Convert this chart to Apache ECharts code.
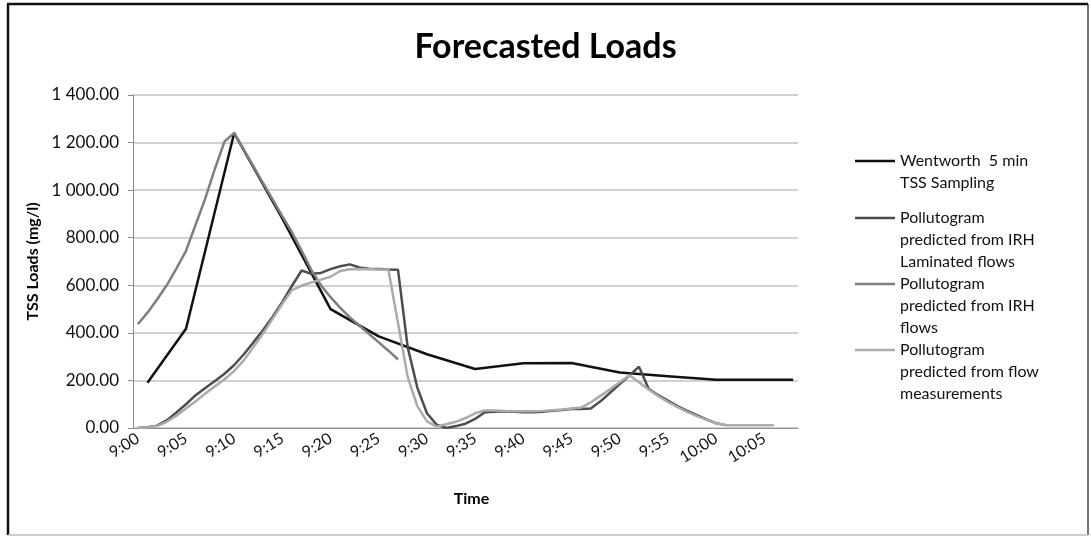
<!DOCTYPE html>
<html>
<head>
<meta charset="utf-8">
<script src="https://cdn.jsdelivr.net/npm/echarts@6/dist/echarts.min.js"></script>
<style>
  html, body { margin: 0; padding: 0; background: #ffffff; }
  #chart { width: 1091px; height: 537px; }
</style>
</head>
<body>
<div id="chart"></div>
<script>
// One category per minute, 9:00 to 10:08
const minutes = [
  '9:00','9:01','9:02','9:03','9:04','9:05','9:06','9:07','9:08','9:09',
  '9:10','9:11','9:12','9:13','9:14','9:15','9:16','9:17','9:18','9:19',
  '9:20','9:21','9:22','9:23','9:24','9:25','9:26','9:27','9:28','9:29',
  '9:30','9:31','9:32','9:33','9:34','9:35','9:36','9:37','9:38','9:39',
  '9:40','9:41','9:42','9:43','9:44','9:45','9:46','9:47','9:48','9:49',
  '9:50','9:51','9:52','9:53','9:54','9:55','9:56','9:57','9:58','9:59',
  '10:00','10:01','10:02','10:03','10:04','10:05','10:06','10:07','10:08'
];

// Wentworth 5 min TSS sampling (mg/l)
const wentworthTimes = ['9:01','9:05','9:10','9:15','9:20','9:25','9:30','9:35','9:40','9:45','9:50','9:55','10:00','10:05','10:08'];
const wentworthLoads = [190, 417, 1240, 880, 500, 385, 310, 248, 272, 273, 233, 218, 203, 203, 203];

// Pollutogram predicted from IRH laminated flows, 9:00 to 10:01
const irhLaminatedLoads = [
  0, 3, 10, 32, 65, 100, 138, 168, 198, 228,
  265, 310, 360, 412, 468, 530, 598, 662, 648, 652,
  668, 680, 688, 675, 670, 668, 666, 665, 340, 170,
  62, 14, 0, 8, 18, 38, 66, 68, 70, 68,
  66, 66, 68, 72, 76, 80, 80, 82, 112, 148,
  185, 220, 258, 165, 138, 115, 92, 72, 54, 36,
  20, 12
];

// Pollutogram predicted from IRH flows, 9:00 to 9:27
const irhFlowLoads = [
  436, 485, 540, 600, 670, 745, 855, 965, 1090, 1205,
  1240, 1170, 1100, 1030, 960, 890, 822, 745, 665, 600,
  550, 505, 465, 430, 395, 360, 325, 288
];

// Pollutogram predicted from flow measurements, 9:00 to 10:06
const flowMeasuredLoads = [
  0, 2, 8, 26, 52, 82, 112, 145, 175, 205,
  240, 285, 340, 398, 460, 522, 580, 598, 612, 624,
  636, 660, 667, 668, 667, 666, 665, 440, 215, 92,
  28, 6, 16, 26, 42, 62, 74, 74, 72, 70,
  70, 70, 72, 75, 78, 82, 86, 108, 135, 163,
  192, 222, 192, 162, 134, 110, 88, 68, 50, 34,
  20, 12, 12, 12, 12, 12, 12
];

const seriesNames = [
  'Wentworth  5 min\nTSS Sampling',
  'Pollutogram\npredicted from IRH\nLaminated flows',
  'Pollutogram\npredicted from IRH\nflows',
  'Pollutogram\npredicted from flow\nmeasurements'
];
const seriesColors = ['#111111', '#4d4d4d', '#7f7f7f', '#ababab'];

const yTicks = { min: 0, max: 1400, step: 200 };

function pairsFromStart(values) {
  return values.map((v, i) => [minutes[i], v]);
}

const seriesData = [
  wentworthTimes.map((t, i) => [t, wentworthLoads[i]]),
  pairsFromStart(irhLaminatedLoads),
  pairsFromStart(irhFlowLoads),
  pairsFromStart(flowMeasuredLoads)
];

function formatLoad(v) {
  const parts = v.toFixed(2).split('.');
  return parts[0].replace(/\B(?=(\d{3})+(?!\d))/g, ' ') + '.' + parts[1];
}

const FONT = 'Lato, "Open Sans", sans-serif';
const LINE_H = 22;
// vertical centre of the first text line of each legend entry
const legendRowY = [161, 218, 284, 350];

const chart = echarts.init(document.getElementById('chart'), null, { renderer: 'canvas' });

// One legend block per series, so the key line sits beside the entry's first line
const legends = seriesNames.map((name, i) => {
  const n = name.split('\n').length;
  return {
    orient: 'vertical',
    left: 855,
    top: legendRowY[i] - (2 * n - 1) * LINE_H / 2,
    padding: 0,
    icon: 'rect',
    itemWidth: 40,
    itemHeight: 2.5,
    itemGap: 0,
    selectedMode: false,
    data: [name],
    formatter: (label) => '\n'.repeat(n - 1) + label,
    textStyle: {
      fontFamily: FONT,
      fontSize: 16,
      color: '#111',
      lineHeight: LINE_H
    }
  };
});

chart.setOption({
  animation: false,
  backgroundColor: '#ffffff',
  title: {
    text: 'Forecasted Loads',
    left: 'center',
    top: 25,
    textStyle: { fontFamily: FONT, fontWeight: 'bold', fontSize: 34, color: '#000' }
  },
  legend: legends,
  grid: { left: 133, top: 95, width: 665, height: 333, containLabel: false },
  xAxis: {
    type: 'category',
    data: minutes,
    boundaryGap: true,
    name: 'Time',
    nameLocation: 'middle',
    nameGap: 63,
    nameTextStyle: { fontFamily: FONT, fontWeight: 'bold', fontSize: 16, color: '#000', padding: [0, 0, 0, 12] },
    axisLine: { lineStyle: { color: '#8c8c8c', width: 1 } },
    axisTick: { show: false },
    axisLabel: {
      interval: 4,
      rotate: 32,
      margin: 9,
      fontFamily: FONT,
      fontSize: 16,
      color: '#111'
    },
    splitLine: { show: false }
  },
  yAxis: {
    type: 'value',
    min: yTicks.min,
    max: yTicks.max,
    interval: yTicks.step,
    name: 'TSS Loads (mg/l)',
    nameLocation: 'middle',
    nameRotate: 90,
    nameGap: 91,
    nameTextStyle: { fontFamily: FONT, fontWeight: 'bold', fontSize: 16, color: '#000' },
    axisLine: { show: true, lineStyle: { color: '#8c8c8c', width: 1 } },
    axisTick: { show: true, inside: false, length: 5, lineStyle: { color: '#8c8c8c' } },
    axisLabel: {
      margin: 14,
      fontFamily: FONT,
      fontSize: 17,
      color: '#111',
      formatter: formatLoad
    },
    splitLine: { lineStyle: { color: '#c2c2c2', width: 1.5 } }
  },
  series: seriesNames.map((name, i) => ({
    name: name,
    type: 'line',
    data: seriesData[i],
    symbol: 'none',
    smooth: false,
    lineStyle: { color: seriesColors[i], width: 2.5 },
    itemStyle: { color: seriesColors[i] },
    z: 2 + i
  })),
  graphic: [
    { type: 'line', shape: { x1: 8, y1: 4, x2: 8, y2: 535 }, style: { stroke: '#111', lineWidth: 2.5 }, silent: true },
    { type: 'line', shape: { x1: 7, y1: 4, x2: 1088, y2: 4 }, style: { stroke: '#111', lineWidth: 2.5 }, silent: true },
    { type: 'line', shape: { x1: 1088, y1: 4, x2: 1088, y2: 535 }, style: { stroke: '#444', lineWidth: 1.5 }, silent: true },
    { type: 'line', shape: { x1: 8, y1: 535, x2: 1088, y2: 535 }, style: { stroke: '#bdbdbd', lineWidth: 1.5 }, silent: true }
  ]
});
</script>
</body>
</html>
